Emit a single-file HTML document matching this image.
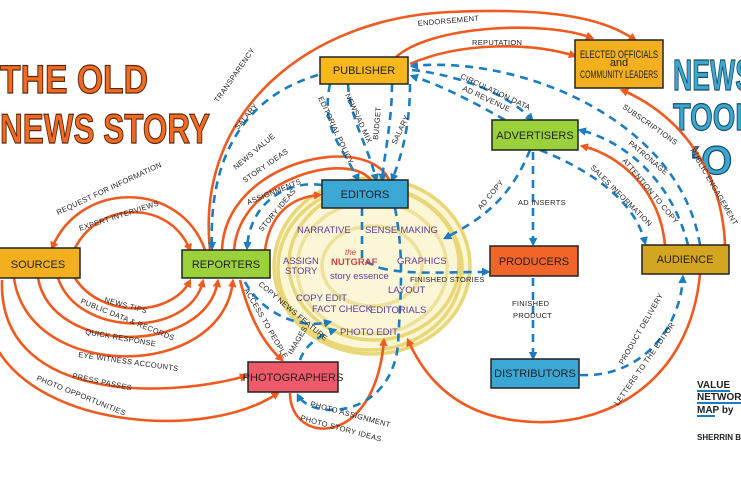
<!DOCTYPE html>
<html><head><meta charset="utf-8"><style>
html,body{margin:0;padding:0;background:#fff;}
svg{display:block;font-family:"Liberation Sans",sans-serif;}
.o{fill:none;stroke:#ee5a1f;stroke-width:2.6;}
.b{fill:none;stroke:#1b7cc0;stroke-width:2.6;stroke-dasharray:8 6;}
.t{font-size:7.5px;fill:#222;letter-spacing:.3px;}
.p{font-size:9.5px;fill:#5a3a9a;}
.n{font-size:11px;fill:#222;text-anchor:middle;}
</style></head><body>
<svg width="741" height="486" viewBox="0 0 741 486">
<defs>
<marker id="ao" markerWidth="8" markerHeight="8" refX="6" refY="4" orient="auto" markerUnits="userSpaceOnUse"><path d="M0,0 L8,4 L0,8 z" fill="#ee5a1f" transform="scale(1.3) translate(-1.5,-1)"/></marker>
<marker id="ab" markerWidth="8" markerHeight="8" refX="6" refY="4" orient="auto" markerUnits="userSpaceOnUse"><path d="M0,0 L8,4 L0,8 z" fill="#1b7cc0" transform="scale(1.3) translate(-1.5,-1)"/></marker>
</defs>
<rect width="741" height="486" fill="#fff"/>
<g fill="none" stroke="#e6d060" stroke-width="3.5" opacity="0.85">
<ellipse cx="372" cy="266" rx="98" ry="88" fill="#fbf5d0"/>
<ellipse cx="370" cy="268" rx="92" ry="82"/>
<ellipse cx="374" cy="264" rx="85" ry="76"/>
<ellipse cx="372" cy="268" rx="75" ry="66" stroke="#eadc8a"/>
<ellipse cx="372" cy="266" rx="50" ry="40" stroke="#eadc8a"/>
</g>
<g font-family="Liberation Sans" font-weight="bold" fill="#f26a22" stroke="#5a2a10" stroke-width="1.2">
<text x="0" y="93" font-size="40" textLength="148" lengthAdjust="spacingAndGlyphs">THE OLD</text>
<text x="0" y="143" font-size="42" textLength="210" lengthAdjust="spacingAndGlyphs">NEWS STORY</text>
</g>
<g font-family="Liberation Sans" font-weight="bold" fill="#3aa7cf" stroke="#1a4a66" stroke-width="1.2">
<text x="673" y="90" font-size="44" textLength="80" lengthAdjust="spacingAndGlyphs">NEWS</text>
<text x="673" y="130" font-size="38" textLength="80" lengthAdjust="spacingAndGlyphs">TOOL</text>
<text x="690" y="174" font-size="40">‘O</text>
</g>
<path class="o" d="M210,250 C195,110 310,18 450,12 C540,8 600,15 635,40" marker-end="url(#ao)"/>
<path class="o" d="M395,58 C430,25 545,20 592,38" marker-end="url(#ao)"/>
<path class="o" d="M410,64 C460,42 530,42 575,56" marker-end="url(#ao)"/>
<path class="o" d="M725,245 C722,170 680,115 622,90" marker-end="url(#ao)"/>
<path class="o" d="M665,245 C660,190 620,155 582,146" marker-end="url(#ao)"/>
<path class="o" d="M700,274 C690,380 610,425 535,422 C470,420 430,390 408,340" marker-end="url(#ao)"/>
<path class="o" d="M205,250 C180,180 80,180 52,248" marker-end="url(#ao)"/>
<path class="o" d="M75,248 C100,200 170,200 190,250" marker-end="url(#ao)"/>
<path class="o" d="M75,278 C100,318 170,318 190,281" marker-end="url(#ao)"/>
<path class="o" d="M58,278 C78,338 190,338 203,281" marker-end="url(#ao)"/>
<path class="o" d="M38,278 C52,356 205,356 218,281" marker-end="url(#ao)"/>
<path class="o" d="M14,278 C28,382 222,382 233,281" marker-end="url(#ao)"/>
<path class="o" d="M2,280 C-2,400 160,400 246,376" marker-end="url(#ao)"/>
<path class="o" d="M-5,345 C40,430 210,440 278,393" marker-end="url(#ao)"/>
<path class="o" d="M222,250 C225,160 370,130 390,182"/>
<path class="o" d="M234,250 C240,175 355,150 372,182" />
<path class="o" d="M265,250 C270,215 290,197 320,195" marker-end="url(#ao)"/>
<path class="o" d="M240,280 C250,320 265,345 282,360" marker-end="url(#ao)"/>
<path class="o" d="M290,393 C290,445 375,450 384,340" marker-end="url(#ao)"/>
<path class="b" d="M318,75 C250,95 208,150 212,248" marker-end="url(#ab)"/>
<path class="b" d="M330,84 C320,130 345,150 358,180" marker-end="url(#ab)"/>
<path class="b" d="M348,84 C350,120 370,150 376,180" marker-end="url(#ab)"/>
<path class="b" d="M392,84 C392,120 385,150 382,180" marker-end="url(#ab)"/>
<path class="b" d="M410,84 C410,130 400,160 392,180" marker-end="url(#ab)"/>
<path class="b" d="M412,70 C460,75 510,95 532,120" marker-end="url(#ab)"/>
<path class="b" d="M505,120 C470,100 440,85 412,76" marker-end="url(#ab)"/>
<path class="b" d="M700,245 C680,120 520,55 412,66" marker-end="url(#ab)"/>
<path class="b" d="M688,245 C670,175 620,140 580,130" marker-end="url(#ab)"/>
<path class="b" d="M540,150 C590,170 635,200 645,243" marker-end="url(#ab)"/>
<path class="b" d="M530,150 C510,200 480,220 445,238" marker-end="url(#ab)"/>
<path class="b" d="M533,152 L533,244" marker-end="url(#ab)"/>
<path class="b" d="M380,268 C410,275 440,272 488,272" marker-end="url(#ab)"/>
<path class="b" d="M533,278 L533,358" marker-end="url(#ab)"/>
<path class="b" d="M580,375 C640,378 680,330 683,277" marker-end="url(#ab)"/>
<path class="b" d="M322,185 C290,180 250,200 247,248" marker-end="url(#ab)"/>
<path class="b" d="M245,282 C260,310 295,330 330,322" marker-end="url(#ab)"/>
<path class="b" d="M300,360 C305,345 320,335 335,330" marker-end="url(#ab)"/>
<path class="b" d="M395,208 C405,260 400,300 398,345 C390,420 310,420 298,395" marker-end="url(#ab)"/>
<path class="b" d="M362,208 L362,260 L380,268"/>
<g stroke="#222" stroke-width="1.5">
<rect x="-2" y="248" width="82" height="30" fill="#f2b01e"/>
<rect x="182" y="250" width="88" height="28" fill="#9bd13a"/>
<rect x="322" y="180" width="86" height="28" fill="#3ba7d4"/>
<rect x="320" y="57" width="88" height="27" fill="#f6b81c"/>
<rect x="575" y="40" width="88" height="48" fill="#f2b01e"/>
<rect x="492" y="120" width="86" height="30" fill="#9bd13a"/>
<rect x="490" y="246" width="88" height="30" fill="#f2652a"/>
<rect x="491" y="359" width="88" height="29" fill="#3ba7d4"/>
<rect x="642" y="245" width="87" height="29" fill="#d4a521"/>
<rect x="248" y="362" width="90" height="30" fill="#ee5a6a"/>
</g>
<text class="n" x="38" y="268">SOURCES</text>
<text class="n" x="226" y="268">REPORTERS</text>
<text class="n" x="365" y="198">EDITORS</text>
<text class="n" x="364" y="74">PUBLISHER</text>
<text class="n" x="619" y="58" font-size="8.5" textLength="78" lengthAdjust="spacingAndGlyphs">ELECTED OFFICIALS</text>
<text class="n" x="619" y="66" font-size="5">and</text>
<text class="n" x="619" y="78" font-size="8.5" textLength="78" lengthAdjust="spacingAndGlyphs">COMMUNITY LEADERS</text>
<text class="n" x="535" y="139">ADVERTISERS</text>
<text class="n" x="534" y="265">PRODUCERS</text>
<text class="n" x="535" y="377">DISTRIBUTORS</text>
<text class="n" x="685" y="263">AUDIENCE</text>
<text class="n" x="293" y="381" font-size="9">PHOTOGRAPHERS</text>
<text class="p" x="297" y="233">NARRATIVE</text>
<text class="p" x="365" y="233">SENSE-MAKING</text>
<text class="p" x="283" y="264" font-size="8">ASSIGN</text>
<text class="p" x="285" y="274" font-size="8">STORY</text>
<text x="345" y="255" font-size="8" fill="#c44" font-style="italic">the</text>
<text x="331" y="265" font-size="9.5" fill="#c44" font-weight="bold">NUTGRAF</text>
<text class="p" x="330" y="279" font-size="7.5">story essence</text>
<text class="p" x="397" y="264">GRAPHICS</text>
<text class="p" x="388" y="293">LAYOUT</text>
<text class="p" x="296" y="301" font-size="9">COPY EDIT</text>
<text class="p" x="312" y="312" font-size="9">FACT CHECK</text>
<text class="p" x="370" y="313" font-size="9">EDITORIALS</text>
<text class="p" x="340" y="335" font-size="9">PHOTO EDIT</text>
<text class="t" x="418" y="26" transform="rotate(-5 418 26)">ENDORSEMENT</text>
<text class="t" x="472" y="45">REPUTATION</text>
<text class="t" x="218" y="103" transform="rotate(-55 218 103)">TRANSPARENCY</text>
<text class="t" x="238" y="130" transform="rotate(-50 238 130)">SALARY</text>
<text class="t" x="236" y="170" transform="rotate(-40 236 170)">NEWS VALUE</text>
<text class="t" x="245" y="183" transform="rotate(-35 245 183)">STORY IDEAS</text>
<text class="t" x="248" y="205" transform="rotate(-22 248 205)">ASSIGNMENTS</text>
<text class="t" x="262" y="232" transform="rotate(-50 262 232)">STORY IDEAS</text>
<text class="t" x="318" y="98" transform="rotate(65 318 98)">EDITORIAL POLICY</text>
<text class="t" x="345" y="95" transform="rotate(65 345 95)">NEWS/AD MIX</text>
<text class="t" x="378" y="140" transform="rotate(-85 378 140)">BUDGET</text>
<text class="t" x="396" y="145" transform="rotate(-65 396 145)">SALARY</text>
<text class="t" x="460" y="78" transform="rotate(25 460 78)">CIRCULATION DATA</text>
<text class="t" x="462" y="90" transform="rotate(25 462 90)">AD REVENUE</text>
<text class="t" x="622" y="108" transform="rotate(35 622 108)">SUBSCRIPTIONS</text>
<text class="t" x="628" y="144" transform="rotate(40 628 144)">PATRONAGE</text>
<text class="t" x="622" y="161" transform="rotate(50 622 161)">ATTENTION TO COPY</text>
<text class="t" x="590" y="168" transform="rotate(45 590 168)">SALES INFORMATION</text>
<text class="t" x="690" y="150" transform="rotate(60 690 150)">PUBLIC ENGAGEMENT</text>
<text class="t" x="481" y="210" transform="rotate(-50 481 210)">AD COPY</text>
<text class="t" x="518" y="205">AD INSERTS</text>
<text class="t" x="410" y="282" font-size="6.5">FINISHED STORIES</text>
<text class="t" x="512" y="306">FINISHED</text>
<text class="t" x="513" y="318">PRODUCT</text>
<text class="t" x="623" y="365" transform="rotate(-60 623 365)">PRODUCT DELIVERY</text>
<text class="t" x="618" y="406" transform="rotate(-55 618 406)">LETTERS TO THE EDITOR</text>
<text class="t" x="58" y="215" transform="rotate(-25 58 215)">REQUEST FOR INFORMATION</text>
<text class="t" x="80" y="231" transform="rotate(-18 80 231)">EXPERT INTERVIEWS</text>
<text class="t" x="104" y="302" transform="rotate(15 104 302)">NEWS TIPS</text>
<text class="t" x="80" y="303" transform="rotate(22 80 303)">PUBLIC DATA &amp; RECORDS</text>
<text class="t" x="85" y="334" transform="rotate(10 85 334)">QUICK RESPONSE</text>
<text class="t" x="78" y="357" transform="rotate(8 78 357)">EYE WITNESS ACCOUNTS</text>
<text class="t" x="72" y="378" transform="rotate(12 72 378)">PRESS PASSES</text>
<text class="t" x="36" y="380" transform="rotate(22 36 380)">PHOTO OPPORTUNITIES</text>
<text class="t" x="244" y="290" transform="rotate(60 244 290)">ACCESS TO PEOPLE</text>
<text class="t" x="258" y="285" transform="rotate(40 258 285)" font-size="6">COPY NEWS FEATURE</text>
<text class="t" x="292" y="355" transform="rotate(-60 292 355)">IMAGES</text>
<text class="t" x="310" y="406" transform="rotate(15 310 406)">PHOTO ASSIGNMENT</text>
<text class="t" x="300" y="420" transform="rotate(15 300 420)">PHOTO STORY IDEAS</text>
<g font-size="10" fill="#222" font-weight="bold">
<text x="697" y="388">VALUE</text>
<text x="697" y="400">NETWORK</text>
<text x="697" y="413">MAP by</text>
<text x="697" y="440" font-size="8">SHERRIN B</text>
</g>
<g stroke="#1b7cc0" stroke-width="2"><line x1="697" y1="391" x2="730" y2="391"/><line x1="697" y1="403" x2="741" y2="403"/><line x1="697" y1="416" x2="715" y2="416"/></g>
</svg>
</body></html>
